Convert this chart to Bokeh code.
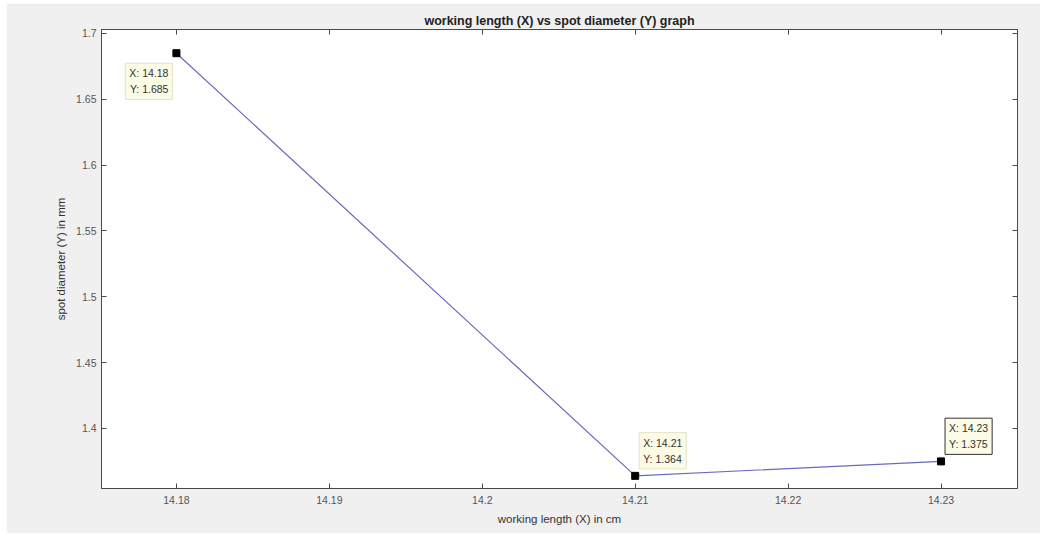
from bokeh.plotting import figure
from bokeh.models import Range1d, FixedTicker, NumeralTickFormatter, LinearAxis, Label
from bokeh.embed import file_html
from bokeh.resources import INLINE

# data
working_length = [14.18, 14.21, 14.23]
spot_diameter = [1.685, 1.364, 1.375]
x_ticks = [14.18, 14.19, 14.20, 14.21, 14.22, 14.23]
y_ticks = [1.40, 1.45, 1.50, 1.55, 1.60, 1.65, 1.70]
tip_labels = ["X: 14.18\nY: 1.685", "X: 14.21\nY: 1.364", "X: 14.23\nY: 1.375"]

FONT = "Liberation Sans"
BG = "#f0f0f0"
AX = "#4a4a4a"

p = figure(width=1034, height=530, output_backend="svg", toolbar_location=None,
           x_range=Range1d(14.1751, 14.2350), y_range=Range1d(1.3544, 1.703),
           min_border_left=95, min_border_right=23, min_border_top=26, min_border_bottom=45,
           background_fill_color="white", border_fill_color=BG)
p.margin = (3, 0, 0, 6)
p.outline_line_color = AX
p.outline_line_width = 1
p.grid.visible = False

p.title.text = "working length (X) vs spot diameter (Y) graph"
p.title.align = "center"
p.title.text_font = FONT
p.title.text_font_size = "12.5px"
p.title.text_font_style = "bold"
p.title.text_color = "#222222"
p.title.standoff = 4

def style_axis(ax, ticks, fmt, label=None, hidden=False, standoff=5):
    ax.ticker = FixedTicker(ticks=ticks)
    ax.formatter = NumeralTickFormatter(format=fmt)
    ax.axis_line_color = AX
    ax.major_tick_line_color = AX
    ax.major_tick_in = 5
    ax.major_tick_out = 0
    ax.minor_tick_line_color = None
    if hidden:
        ax.major_label_text_font_size = "1px"
        ax.major_label_text_alpha = 0
        ax.major_label_standoff = 0
    else:
        ax.major_label_text_font = FONT
        ax.major_label_text_font_size = "10.5px"
        ax.major_label_text_color = "#555555"
        ax.major_label_standoff = standoff
        ax.axis_label = label
        ax.axis_label_text_font = FONT
        ax.axis_label_text_font_size = "11.5px"
        ax.axis_label_text_font_style = "normal"
        ax.axis_label_text_color = "#333333"
        ax.axis_label_standoff = 6

style_axis(p.xaxis[0], x_ticks, "0.[00]", "working length (X) in cm", standoff=7)
style_axis(p.yaxis[0], y_ticks, "0.[00]", "spot diameter (Y) in mm", standoff=5)

top_ax = LinearAxis()
right_ax = LinearAxis()
style_axis(top_ax, x_ticks, "0.[00]", hidden=True)
style_axis(right_ax, y_ticks, "0.[00]", hidden=True)
p.add_layout(top_ax, "above")
p.add_layout(right_ax, "right")

p.line(working_length, spot_diameter, line_color="#6a6abc", line_width=1.2)
p.scatter(working_length, spot_diameter, marker="square", size=7,
          fill_color="black", line_color="black")

# data tips
tip_align = ["right", "left", "left"]
tip_baseline = ["top", "bottom", "bottom"]
tip_dx = [-4, 4, 4]
tip_dy = [-10, 7, 7]
tip_border = ["#e3e3c8", "#e3e3c8", "#333333"]
for xv, yv, txt, al, bl, dx, dy, bc in zip(working_length, spot_diameter, tip_labels,
                                          tip_align, tip_baseline, tip_dx, tip_dy, tip_border):
    p.add_layout(Label(x=xv, y=yv, text=txt, x_offset=dx, y_offset=dy,
                       text_align=al, text_baseline=bl, text_line_height=1.35,
                       text_font=FONT, text_font_size="10.5px", text_color="#333333",
                       background_fill_color="#fbfbe6", border_line_color=bc,
                       border_line_width=1, padding=4))

open("out.html", "w").write(file_html(p, INLINE))
